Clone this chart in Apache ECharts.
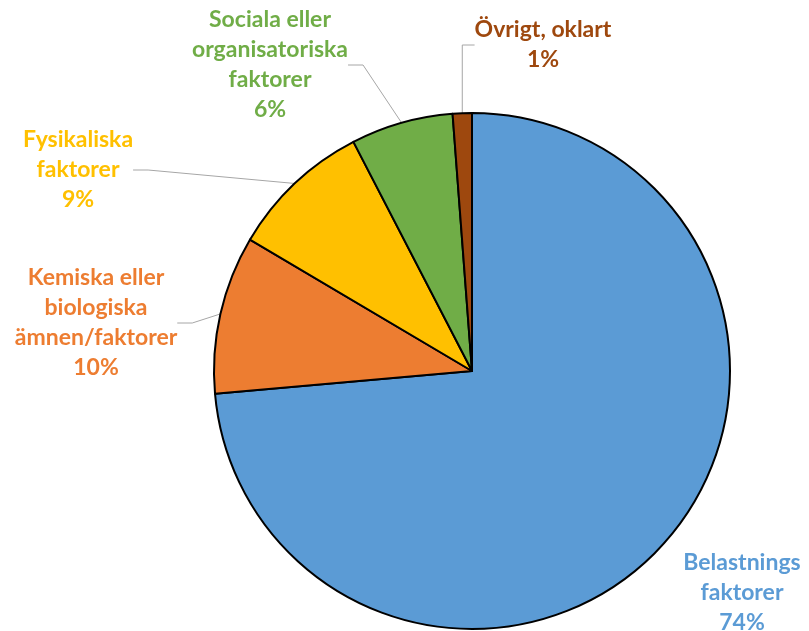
<!DOCTYPE html>
<html>
<head>
<meta charset="utf-8">
<script src="https://cdn.jsdelivr.net/npm/echarts@6/dist/echarts.min.js"></script>
<style>
html, body { margin: 0; padding: 0; background: #fff; }
#pieChart { width: 809px; height: 631px; }
</style>
</head>
<body>
<div id="pieChart"></div>
<script>
// kategorier och andelar (procent)
var categories = [
	"Belastnings\nfaktorer",
	"Kemiska eller\nbiologiska\nämnen/faktorer",
	"Fysikaliska\nfaktorer",
	"Sociala eller\norganisatoriska\nfaktorer",
	"Övrigt, oklart"
];
var shares = [73.6, 9.9, 8.9, 6.4, 1.2];
var colors = ["#5B9BD5", "#ED7D31", "#FFC000", "#70AD47", "#9E480E"];

// var etiketterna står i bilden
var labelPos = [[742, 593], [96, 323], [78, 170], [270, 65], [543, 45]];

var pieChart = echarts.init(document.getElementById("pieChart"));
var pieData = [];
for (var i = 0; i < categories.length; i++) {
	pieData.push({
		name : categories[i],
		value : shares[i],
		itemStyle : { color : colors[i] },
		label : { color : colors[i] },
		labelLine : { show : i !== 0 }
	});
}
var pieOption = {
	animation : false,
	series : [ {
		type : "pie",
		center : [ 472, 371 ],
		radius : 258,
		startAngle : 90,
		clockwise : true,
		percentPrecision : 0,
		data : pieData,
		itemStyle : {
			borderColor : "#000",
			borderWidth : 2
		},
		label : {
			show : true,
			position : "outside",
			formatter : "{b}\n{d}%",
			fontFamily : "Lato",
			fontWeight : "bold",
			fontSize : 23,
			lineHeight : 30,
			align : "center",
			overflow : "none"
		},
		labelLine : {
			show : true,
			length : 15,
			length2 : 15,
			lineStyle : { color : "#A6A6A6", width : 1 }
		},
		labelLayout : function(params) {
			var p = labelPos[params.dataIndex];
			return {
				x : p[0],
				y : p[1],
				align : "center",
				verticalAlign : "middle"
			};
		}
	} ]
};
pieChart.setOption(pieOption);
</script>
</body>
</html>
